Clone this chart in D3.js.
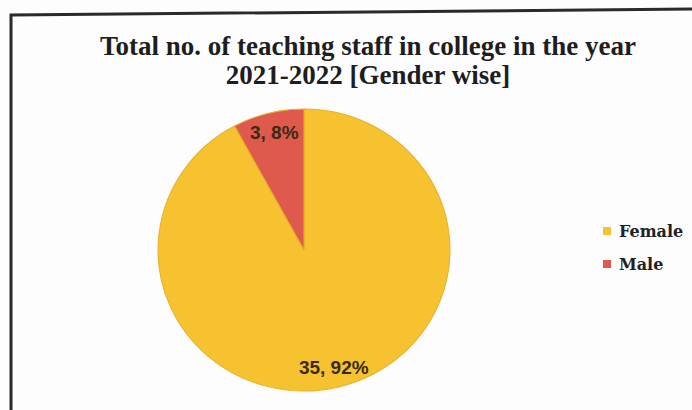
<!DOCTYPE html>
<html><head><meta charset="utf-8">
<script src="https://cdn.jsdelivr.net/npm/d3@7"></script>
<style>body{margin:0;background:#fff}svg{display:block}</style>
</head><body>
<script>
const categories = ["Female", "Male"];
const values = [35, 3];
const percents = ["92%", "8%"];
const colors = ["#f6c22f", "#df5a4d"];
const titleLines = ["Total no. of teaching staff in college in the year", "2021-2022 [Gender wise]"];

const W = 692, H = 410;
const svg = d3.select("body").append("svg").attr("width", W).attr("height", H);
svg.append("rect").attr("width", W).attr("height", H).attr("fill", "#fdfdfd");
// frame
svg.append("path").attr("d", "M11,412 L11,15 L700,9").attr("fill", "none").attr("stroke", "#2a2a2a").attr("stroke-width", 3);

const title = svg.append("text").attr("text-anchor", "middle")
  .attr("font-family", "'Liberation Serif', serif").attr("font-weight", "bold")
  .attr("font-size", 27).attr("fill", "#1e1e1e");
titleLines.forEach((t, i) => title.append("tspan").attr("x", 368).attr("y", 55 + i * 29).text(t));

const cx = 304, cy = 250, r = 141;
const data = categories.map((c, i) => ({cat: c, value: values[i], pct: percents[i], color: colors[i]}));
const pie = d3.pie().sort(null).value(d => d.value);
const arcs = pie(data);
const arc = d3.arc().innerRadius(0).outerRadius(r);
const labelArc = d3.arc().innerRadius(r * 0.86).outerRadius(r * 0.86);
const g = svg.append("g").attr("transform", `translate(${cx},${cy})`);
g.append("g").attr("transform", "scale(1.035,1)")
  .selectAll("path").data(arcs).join("path").attr("d", arc).attr("fill", d => d.data.color)
  .attr("stroke", "#e6b02a").attr("stroke-width", 1);
g.selectAll("text").data(arcs).join("text")
  .attr("transform", d => `translate(${labelArc.centroid(d)})`)
  .attr("text-anchor", "middle").attr("dy", "0.35em")
  .attr("font-family", "'Liberation Sans Narrow', 'Liberation Sans', sans-serif").attr("font-weight", "bold")
  .attr("font-size", 19).attr("fill", "#3b2a12")
  .text(d => `${d.data.value}, ${d.data.pct}`);

const leg = svg.append("g").attr("transform", "translate(603,231)");
data.forEach((d, i) => {
  const row = leg.append("g").attr("transform", `translate(0,${i * 33})`);
  row.append("rect").attr("x", 0).attr("y", -4).attr("width", 8).attr("height", 8).attr("fill", d.color);
  row.append("text").attr("x", 16).attr("y", 0).attr("dy", "0.36em")
    .attr("font-family", "'DejaVu Serif', serif").attr("font-weight", "bold")
    .attr("font-size", 16).attr("fill", "#222").text(d.cat);
});
</script>
</body></html>
